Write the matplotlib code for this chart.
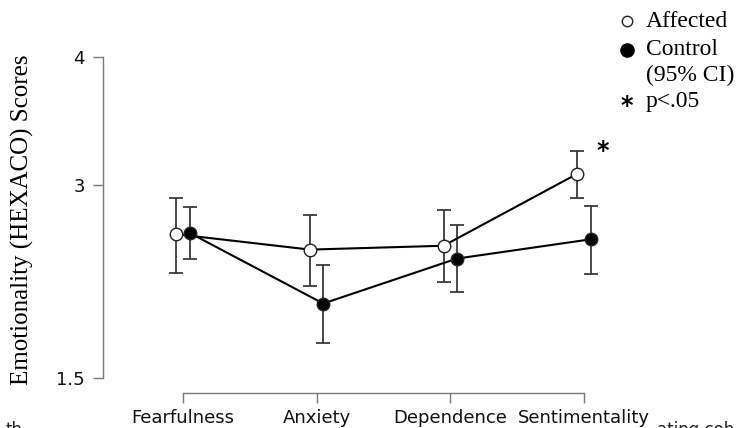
import numpy as np
import matplotlib.pyplot as plt
from matplotlib.lines import Line2D

# HEXACO emotionality facets, group means with 95% CI bounds
categories = ["Fearfulness", "Anxiety", "Dependence", "Sentimentality"]
affected_mean = [2.62, 2.50, 2.53, 3.09]
affected_lo = [2.32, 2.22, 2.25, 2.90]
affected_hi = [2.90, 2.77, 2.81, 3.27]
control_mean = [2.63, 2.08, 2.43, 2.58]
control_lo = [2.43, 1.77, 2.17, 2.31]
control_hi = [2.83, 2.38, 2.69, 2.84]
y_ticks = [1.5, 3, 4]
significant = ["Sentimentality"]

SERIF = ["Liberation Serif", "DejaVu Serif"]
SANS = ["DejaVu Sans"]

fig = plt.figure(figsize=(7.4, 4.28), dpi=100)
W, H = 740, 428
# axes box in pixels: left 103, right 640, y=4 at 57px, y=1.5 at 378px
ax = fig.add_axes([103 / W, 50 / H, 537 / W, 321 / H])

x = np.arange(len(categories))
dodge = 0.05


def draw_group(xs, mean, lo, hi, face):
    mean = np.array(mean)
    err = np.vstack([mean - np.array(lo), np.array(hi) - mean])
    ax.errorbar(xs, mean, yerr=err, fmt="none", ecolor="#3a3a3a",
                elinewidth=1.3, capsize=5, capthick=1.3, zorder=2)
    ax.plot(xs, mean, color="black", lw=1.5, zorder=3)
    ax.plot(xs, mean, "o", ms=9, mfc=face, mec="#222222", mew=1.0,
            linestyle="none", zorder=4)


draw_group(x - dodge, affected_mean, affected_lo, affected_hi, "white")
draw_group(x + dodge, control_mean, control_lo, control_hi, "black")

for i, c in enumerate(categories):
    if c in significant:
        ax.text(i + 0.14, affected_hi[i], "*", fontsize=17, fontweight="bold",
                ha="center", va="center", family=SANS, clip_on=False)

ax.set_xlim(-0.598, 3.42)
ax.set_ylim(1.5, 4)
ax.set_xticks(x)
ax.set_xticklabels(categories, family=SANS)
ax.set_yticks(y_ticks)
ax.set_yticklabels([str(t) for t in y_ticks], family=SANS)

for s in ["top", "right"]:
    ax.spines[s].set_visible(False)
ax.spines["left"].set_bounds(1.5, 4)
ax.spines["bottom"].set_bounds(0, 3)
ax.spines["bottom"].set_position(("outward", 11))
for s in ["left", "bottom"]:
    ax.spines[s].set_color("#7a7a7a")
    ax.spines[s].set_linewidth(1.0)
ax.tick_params(axis="both", color="#7a7a7a", length=7, width=1.0,
               labelcolor="#111111")
ax.tick_params(axis="y", pad=6, labelsize=13)
ax.tick_params(axis="x", pad=4, labelsize=13)

fig.text(22 / W, 1 - 220 / H, "Emotionality (HEXACO) Scores", rotation=90,
         ha="center", va="center", fontsize=18, family=SERIF)

# hand-made key in the top right corner
key_x, text_x = 627 / W, 646 / W
fig.add_artist(Line2D([key_x], [1 - 21 / H], marker="o", ms=7.5, mfc="white",
                      mec="#222222", mew=1.0, transform=fig.transFigure))
fig.add_artist(Line2D([key_x], [1 - 50 / H], marker="o", ms=9.5, mfc="black",
                      mec="black", transform=fig.transFigure))
legend_lines = [("Affected", 27), ("Control", 55), ("(95% CI)", 81), ("p<.05", 107)]
for txt, ypx in legend_lines:
    fig.text(text_x, 1 - ypx / H, txt, ha="left", va="baseline",
             fontsize=17, family=SERIF)
fig.text(key_x, 1 - 106 / H, "*", ha="center", va="center", fontsize=17,
         fontweight="bold", family=SANS)

# fragments of surrounding page text, cut by the crop
fig.text(6 / W, 1 - 421 / H, "th", ha="left", va="top", fontsize=12,
         family=SANS, color="#222222")
fig.text(657 / W, 1 - 421 / H, "ating coh", ha="left", va="top", fontsize=12,
         family=SANS, color="#222222")

fig.savefig("out.png", dpi=100)
